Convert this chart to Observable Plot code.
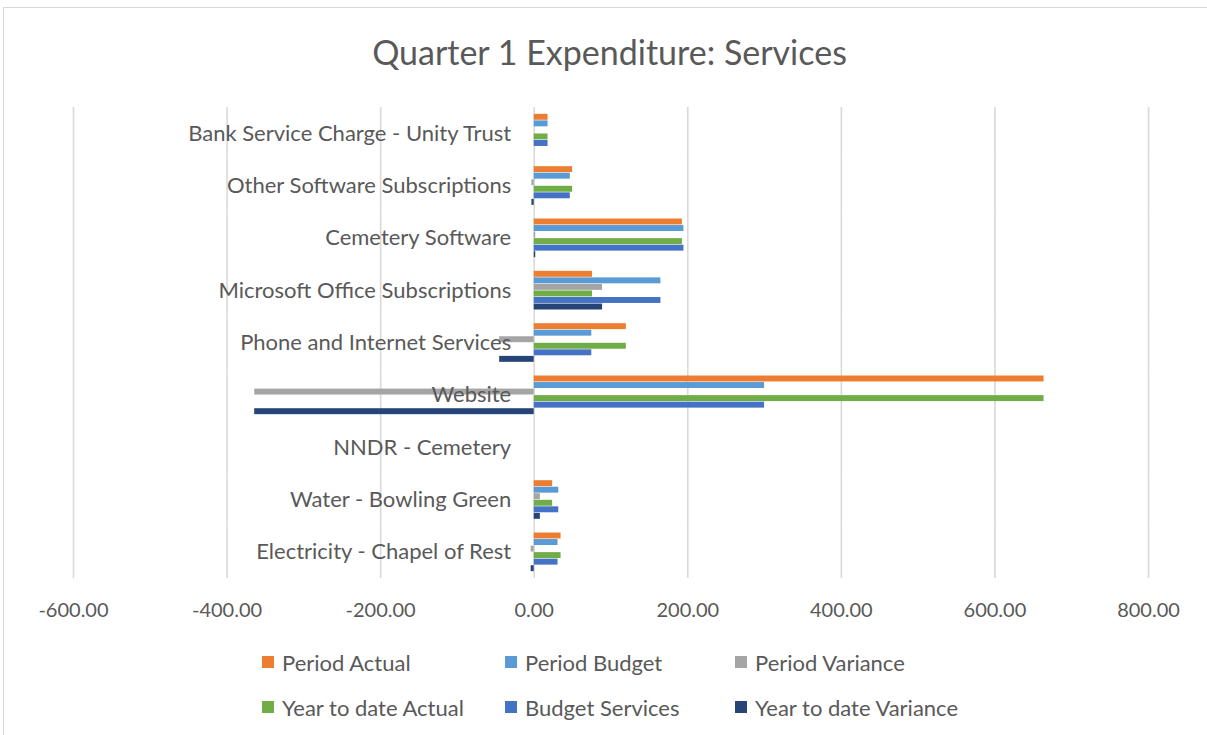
<!DOCTYPE html>
<html>
<head>
<meta charset="utf-8">
<script src="https://cdn.jsdelivr.net/npm/d3@7"></script>
<script src="https://cdn.jsdelivr.net/npm/@observablehq/plot@0.6"></script>
<style>
  html, body { margin: 0; padding: 0; background: #fff; }
  body { width: 1207px; height: 735px; position: relative; overflow: hidden; font-family: Lato, "Open Sans", sans-serif; color: #595959; }
  #frame { position: absolute; left: 3px; top: 7px; width: 1300px; height: 800px; border-top: 1px solid #d9d9d9; border-left: 1px solid #d9d9d9; pointer-events: none; }
  #title { height: 92px; display: flex; align-items: center; justify-content: center; font-size: 34px; padding-top: 10px; box-sizing: border-box; padding-left: 12px; }
  #chart svg { display: block; }
  #legend { position: relative; height: 107px; }
  .item { position: absolute; display: flex; align-items: center; font-size: 22px; white-space: nowrap; height: 26px; }
  .sw { width: 12px; height: 12px; margin-right: 8px; }
</style>
</head>
<body>
<div id="frame"></div>
<div id="title">Quarter 1 Expenditure: Services</div>
<div id="chart"></div>
<div id="legend"></div>
<script>
const categories = [
  "Bank Service Charge - Unity Trust",
  "Other Software Subscriptions",
  "Cemetery Software",
  "Microsoft Office Subscriptions",
  "Phone and Internet Services",
  "Website",
  "NNDR - Cemetery",
  "Water - Bowling Green",
  "Electricity - Chapel of Rest"
];
const seriesNames = ["Period Actual", "Period Budget", "Period Variance", "Year to date Actual", "Budget Services", "Year to date Variance"];
const seriesColors = ["#ED7D31", "#5B9BD5", "#A5A5A5", "#70AD47", "#4472C4", "#264478"];

const periodActual       = [18, 50, 193, 76, 120, 664, 0, 24, 35];
const periodBudget       = [18, 47, 195, 165, 75, 300, 0, 32, 31];
const periodVariance     = [0, -3, 2, 89, -45, -364, 0, 8, -4];
const yearToDateActual   = [18, 50, 193, 76, 120, 664, 0, 24, 35];
const budgetServices     = [18, 47, 195, 165, 75, 300, 0, 32, 31];
const yearToDateVariance = [0, -3, 2, 89, -45, -364, 0, 8, -4];

const xTicks = [-600, -400, -200, 0, 200, 400, 600, 800];

const seriesValues = [periodActual, periodBudget, periodVariance, yearToDateActual, budgetServices, yearToDateVariance];
const data = categories.flatMap((c, i) => seriesNames.map((s, j) => ({category: c, series: s, value: seriesValues[j][i]})));

const chart = Plot.plot({
  width: 1207,
  height: 536,
  marginLeft: 73,
  marginRight: 59,
  marginTop: 15,
  marginBottom: 50,
  style: {fontFamily: "Lato, 'Open Sans', sans-serif", fontSize: "20px", color: "#595959", background: "transparent"},
  x: {domain: [-600, 800], ticks: xTicks, tickFormat: d => d.toFixed(2), tickSize: 0, tickPadding: 24, label: null},
  fy: {domain: categories, axis: null, padding: 0, round: false},
  y: {domain: seriesNames, axis: null, paddingInner: 0, paddingOuter: 1, round: false},
  color: {domain: seriesNames, range: seriesColors},
  marks: [
    Plot.ruleX(xTicks, {stroke: "#d9d9d9", strokeWidth: 1.6}),
    Plot.barX(data, {fy: "category", y: "series", x: "value", fill: "series", insetTop: 0.3, insetBottom: 0.3}),
    Plot.text(categories, {fy: d => d, x: () => 0, text: d => d, dx: -23, textAnchor: "end", fill: "#595959", fontSize: 22})
  ]
});
document.getElementById("chart").appendChild(chart);

const legend = document.getElementById("legend");
const colX = [262, 505, 735];
const rowY = [34, 79];
seriesNames.forEach((s, i) => {
  const el = document.createElement("div");
  el.className = "item";
  el.style.left = colX[i % 3] + "px";
  el.style.top = (rowY[Math.floor(i / 3)] - 13) + "px";
  el.innerHTML = `<span class="sw" style="background:${seriesColors[i]}"></span><span>${s}</span>`;
  legend.appendChild(el);
});
</script>
</body>
</html>
